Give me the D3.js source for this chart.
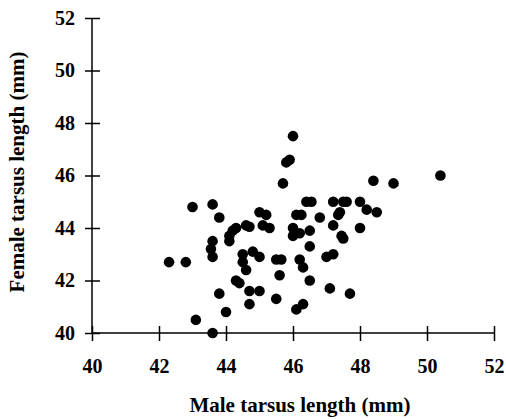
<!DOCTYPE html>
<html>
<head>
<meta charset="utf-8">
<script src="https://cdn.jsdelivr.net/npm/d3@7"></script>
<style>
  body { margin: 0; background: #fff; }
  text { font-family: "Liberation Serif", "Times New Roman", serif; font-weight: bold; }
</style>
</head>
<body>
<svg id="chart" width="506" height="419"></svg>
<script>
// male tarsus length (x)
const maleTarsus = [
  46.0, 45.8, 45.9, 45.7, 43.0, 43.6, 43.8, 42.3, 42.8, 43.6,
  43.55, 43.6, 43.1, 43.6, 44.0, 43.8, 44.3, 44.2, 44.1, 44.1,
  44.6, 44.7, 45.0, 45.2, 45.1, 45.3, 44.5, 44.5, 44.6, 44.8,
  45.0, 44.3, 44.4, 44.7, 45.0, 44.7, 45.5, 45.65, 45.6, 45.5,
  46.1, 46.3, 46.2, 46.3, 46.5, 46.5, 46.0, 46.0, 46.2, 46.5,
  46.1, 46.25, 46.4, 46.55, 46.8, 47.2, 47.5, 47.6, 47.35, 47.4,
  47.2, 47.45, 47.5, 47.0, 47.2, 47.1, 47.7, 48.4, 49.0, 50.4,
  48.0, 48.2, 48.5, 48.0
]
// female tarsus length (y)
const femaleTarsus = [
  47.5, 46.5, 46.6, 45.7, 44.8, 44.9, 44.4, 42.7, 42.7, 43.5,
  43.2, 42.9, 40.5, 40.0, 40.8, 41.5, 44.0, 43.9, 43.7, 43.5,
  44.1, 44.05, 44.6, 44.5, 44.1, 44.0, 43.0, 42.7, 42.4, 43.1,
  42.9, 42.0, 41.9, 41.6, 41.6, 41.1, 42.8, 42.8, 42.2, 41.3,
  40.9, 41.1, 42.8, 42.5, 42.0, 43.3, 44.0, 43.7, 43.8, 43.9,
  44.5, 44.5, 45.0, 45.0, 44.4, 45.0, 45.0, 45.0, 44.5, 44.6,
  44.1, 43.7, 43.6, 42.9, 43.0, 41.7, 41.5, 45.8, 45.7, 46.0,
  45.0, 44.7, 44.6, 44.0
]
const xTicks = [40, 42, 44, 46, 48, 50, 52]
const yTicks = [40, 42, 44, 46, 48, 50, 52]

const points = maleTarsus.map((m, i) => ({ x: m, y: femaleTarsus[i] }))

const svg = d3.select("#chart")
const plotLeft = 92, plotRight = 494, plotTop = 18, plotBottom = 333

const x = d3.scaleLinear().domain([40, 52]).range([plotLeft, plotRight])
const y = d3.scaleLinear().domain([40, 52]).range([plotBottom, plotTop])

// x axis, ticks cross the line
const xAxis = svg.append("g")
    .attr("transform", `translate(0,${plotBottom})`)
    .call(d3.axisBottom(x).tickValues(xTicks).tickSize(0).tickPadding(26))
xAxis.select(".domain").attr("d", `M${plotLeft},0H${plotRight}`).attr("stroke", "#000").attr("stroke-width", 1.5)
xAxis.selectAll(".tick").append("line")
    .attr("y1", -7).attr("y2", 8)
    .attr("stroke", "#000").attr("stroke-width", 1.5)
xAxis.selectAll(".tick text").attr("font-size", 20).attr("fill", "#000")

const yAxis = svg.append("g")
    .attr("transform", `translate(${plotLeft},0)`)
    .call(d3.axisLeft(y).tickValues(yTicks).tickSize(0).tickPadding(17))
yAxis.select(".domain").attr("d", `M0,${plotTop}V${plotBottom}`).attr("stroke", "#000").attr("stroke-width", 1.5)
yAxis.selectAll(".tick").append("line")
    .attr("x1", -7).attr("x2", 8)
    .attr("stroke", "#000").attr("stroke-width", 1.5)
yAxis.selectAll(".tick text").attr("font-size", 20).attr("fill", "#000")

svg.selectAll("g text").attr("font-family", "Liberation Serif, serif").attr("font-weight", "bold")

svg.append("g").selectAll("circle")
    .data(points)
    .enter().append("circle")
    .attr("cx", d => x(d.x))
    .attr("cy", d => y(d.y))
    .attr("r", 5.3)
    .attr("fill", "#000")

svg.append("text")
    .attr("x", 300).attr("y", 412)
    .attr("text-anchor", "middle")
    .attr("font-size", 21)
    .text("Male tarsus length (mm)")

svg.append("text")
    .attr("transform", "translate(24,172) rotate(-90)")
    .attr("text-anchor", "middle")
    .attr("font-size", 21)
    .text("Female tarsus length (mm)")
</script>
</body>
</html>
